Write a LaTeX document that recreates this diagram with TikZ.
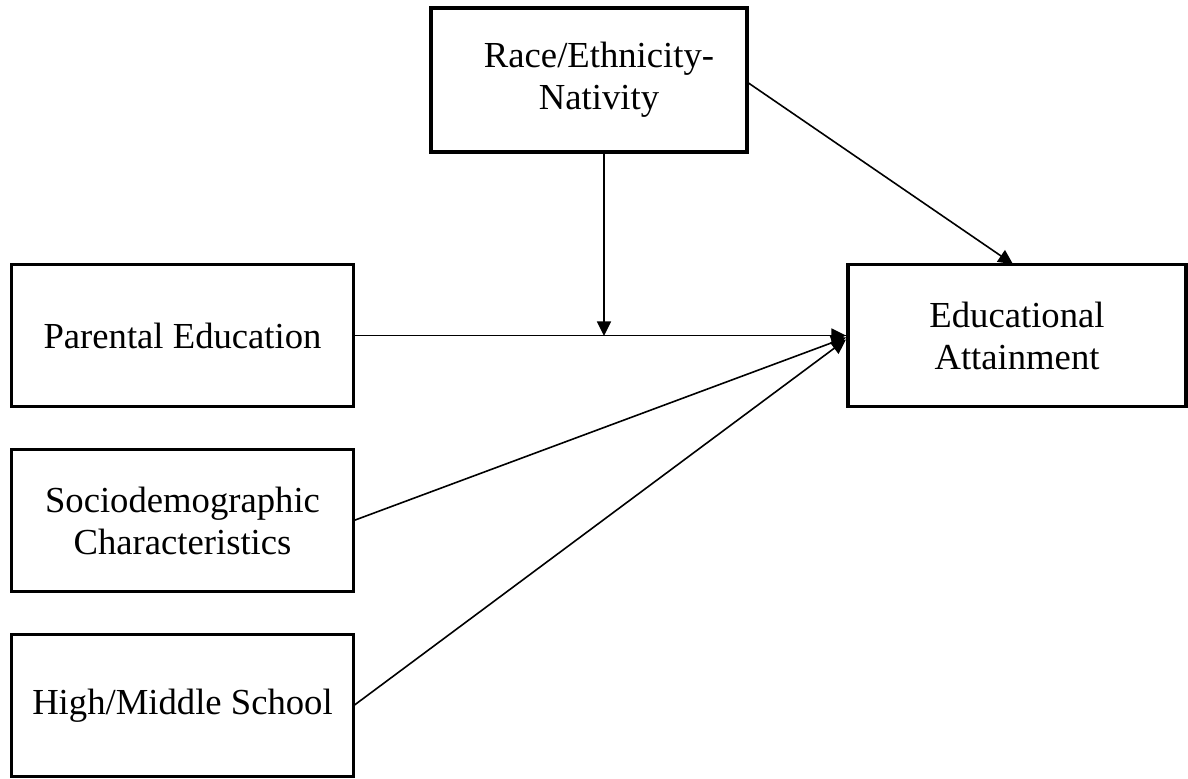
\documentclass[tikz,border=0pt]{standalone}
\usepackage{fontspec}
\setmainfont{Liberation Serif}
\usetikzlibrary{arrows.meta,calc}
\begin{document}
\begin{tikzpicture}[x=0.75pt,y=-0.75pt,
  box/.style={draw=black,line width=2.3pt,rectangle,inner sep=0pt,outer sep=0pt,
    align=center,font=\fontsize{27.5}{31.5}\selectfont},
  conn/.style={line width=1.2pt,-{Triangle[width=10.5pt,length=11pt]}}]
\useasboundingbox (0,0) rectangle (1188,778);
\node[box,minimum width=237pt,minimum height=108pt] (race) at (589,80)
  {\hspace*{15pt}Race/Ethnicity-\\\hspace*{15pt}Nativity};
\node[box,minimum width=257pt,minimum height=107pt] (par) at (182.5,335.5) {Parental Education};
\node[box,minimum width=257pt,minimum height=107pt] (soc) at (182.5,520.5) {Sociodemographic\\Characteristics};
\node[box,minimum width=257pt,minimum height=107pt] (hms) at (182.5,705.5) {High/Middle School};
\node[box,minimum width=253.5pt,minimum height=107pt] (edu) at (1017,335.5) {Educational\\Attainment};
\coordinate (m) at (604,336);
\coordinate (e1) at ($(edu.west)+(-2,2)$);
\coordinate (e2) at ($(edu.west)+(-2,4)$);
\coordinate (rs) at ($(race.east)+(0,2)$);
\draw[conn] (rs) -- ($(edu.north)+(-4,0)$);
\draw[conn] (race.south -| m) -- (m);
\draw[line width=1.2pt] (par.east) -- (edu.west);
\draw[conn] (par.east) -- ($(edu.west)+(-2,0)$);
\draw[conn] (soc.east) -- (e1);
\draw[conn] (hms.east) -- (e2);
\end{tikzpicture}
\end{document}
